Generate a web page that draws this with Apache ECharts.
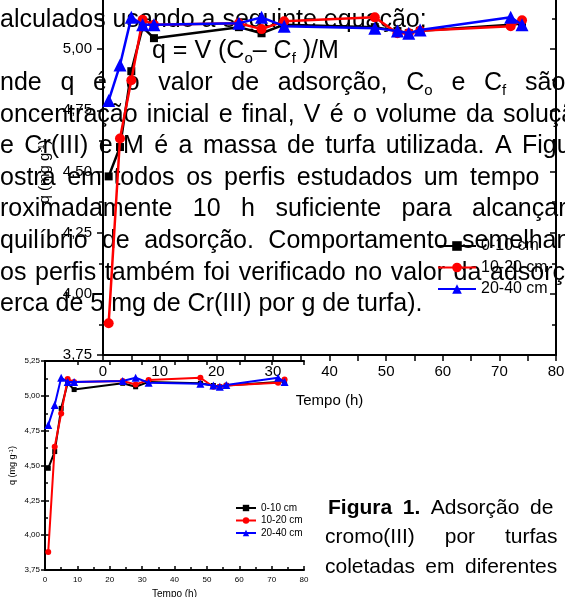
<!DOCTYPE html>
<html>
<head>
<meta charset="utf-8">
<script src="https://cdn.jsdelivr.net/npm/echarts@6/dist/echarts.min.js"></script>
<style>
  html, body { margin: 0; padding: 0; background: #fff; }
  #main { width: 565px; height: 597px; }
</style>
</head>
<body>
<div id="main"></div>
<script>
// tempos de coleta (h)
var times = [1, 3, 5, 7, 9, 24, 28, 32, 48, 52, 54, 56, 72, 74];
// q (mg/g) por perfil
var q0to10 = [4.48, 4.60, 4.91, 5.09, 5.045, 5.09, 5.065, 5.10, 5.09, 5.074, 5.065, 5.075, 5.10, 5.105];
var q10to20 = [3.88, 4.635, 4.873, 5.12, 5.10, 5.106, 5.082, 5.114, 5.13, 5.065, 5.065, 5.075, 5.094, 5.118];
var q20to40 = [4.79, 4.935, 5.13, 5.10, 5.10, 5.106, 5.13, 5.094, 5.086, 5.074, 5.065, 5.078, 5.13, 5.10];
var seriesNames = ['0-10 cm', '10-20 cm', '20-40 cm'];

// texto da pagina (partes visiveis)
var paragraphLines = [
  'alculados usando a seguinte equação:',
  'q = V (C_o– C_f )/M',
  'nde q é o valor de adsorção, C_o e C_f são',
  'oncentração inicial e final, V é o volume da solução',
  'e Cr(III) e M é a massa de turfa utilizada. A Figura',
  'ostra em todos os perfis estudados um tempo',
  'roximadamente 10 h suficiente para alcançar',
  'quilíbrio de adsorção. Comportamento semelhante',
  'os perfis também foi verificado no valor da adsorção',
  'erca de 5 mg de Cr(III) por g de turfa).'
];
var captionLines = [
  'Figura 1. Adsorção de',
  'cromo(III) por turfas',
  'coletadas em diferentes'
];

// posicao das linhas: inicio e inicio da ultima palavra (justificado)
var paraLayout = [
  {x0: 0}, {x0: 152}, {x0: 0, last: 525}, {x0: 0, last: 503}, {x0: 0, last: 522},
  {x0: 0, last: 470}, {x0: 0, last: 472}, {x0: 0, last: 462}, {x0: 0, last: 490}, {x0: 0}
];
var captionLayout = [
  {x0: 328, last: 530, bold: 2, y: 514.5},
  {x0: 325, last: 505, y: 544},
  {x0: 325, last: 465, y: 573.5}
];

var FAMILY = '"Liberation Sans", Arial, sans-serif';
var ctx = document.createElement('canvas').getContext('2d');

function fontOf(size, bold) {
  return (bold ? 'bold ' : '') + size + 'px ' + FAMILY;
}
function measure(str, font) {
  ctx.font = font;
  return ctx.measureText(str).width;
}
// "C_o," -> C, o (subscrito), ,
function wordParts(word) {
  var parts = [], re = /_(.)|([^_]+)/g, m;
  while ((m = re.exec(word))) {
    if (m[1]) parts.push({t: m[1], sub: true});
    else parts.push({t: m[2], sub: false});
  }
  return parts;
}
function wordWidth(word, fs, bold) {
  var w = 0;
  wordParts(word).forEach(function (p) {
    w += measure(p.t, fontOf(p.sub ? fs * 0.6 : fs, bold));
  });
  return w;
}
function layoutLine(text, lay, baseline, fs, out) {
  var words = text.split(/\s+/);
  var boldCount = lay.bold || 0;
  var widths = words.map(function (w, i) { return wordWidth(w, fs, i < boldCount); });
  var gap = measure(' ', fontOf(fs));
  if (lay.last != null && words.length > 1) {
    var sum = 0;
    for (var i = 0; i < words.length - 1; i++) sum += widths[i];
    gap = (lay.last - lay.x0 - sum) / (words.length - 1);
  }
  var x = lay.x0;
  words.forEach(function (w, i) {
    var px = x, bold = i < boldCount;
    wordParts(w).forEach(function (p) {
      var size = p.sub ? fs * 0.6 : fs;
      var base = p.sub ? baseline + fs * 0.18 : baseline;
      out.push({
        type: 'text', silent: true, z: 0,
        x: px, y: base - size * 0.32,
        style: {text: p.t, font: fontOf(size, bold), fill: '#000', verticalAlign: 'middle'}
      });
      px += measure(p.t, fontOf(size, bold));
    });
    x += widths[i] + gap;
  });
}

var textEls = [];
paragraphLines.forEach(function (t, i) {
  layoutLine(t, paraLayout[i], 28 + 31.6 * i, 25, textEls);
});
captionLines.forEach(function (t, i) {
  layoutLine(t, captionLayout[i], captionLayout[i].y, 21, textEls);
});

function commaLabel(v) {
  return v.toFixed(2).replace('.', ',');
}
function pairs(arr) {
  return times.map(function (t, i) { return [t, arr[i]]; });
}

var colors = ['#000000', '#ff0000', '#0000ff'];
var symbols = ['rect', 'circle', 'triangle'];
var bigSizes = [8, 10, 13];
var smallSizes = [5, 6, 8];
var values = [q0to10, q10to20, q20to40];

var series = [];
values.forEach(function (arr, k) {
  series.push({
    name: seriesNames[k], type: 'line', xAxisIndex: 0, yAxisIndex: 0,
    data: pairs(arr), symbol: symbols[k], symbolSize: bigSizes[k], z: 3 + k,
    lineStyle: {color: colors[k], width: 2.5}, itemStyle: {color: colors[k]},
    animation: false
  });
});
values.forEach(function (arr, k) {
  series.push({
    name: seriesNames[k], type: 'line', xAxisIndex: 1, yAxisIndex: 2,
    data: pairs(arr), symbol: symbols[k], symbolSize: smallSizes[k], z: 3 + k,
    lineStyle: {color: colors[k], width: 2}, itemStyle: {color: colors[k]},
    animation: false
  });
});

var blackLine = {show: true, lineStyle: {color: '#000', width: 2}};

var option = {
  backgroundColor: '#fff',
  animation: false,
  textStyle: {fontFamily: FAMILY},
  graphic: {elements: textEls},
  legend: [
    {
      data: seriesNames, orient: 'vertical', left: 437, top: 238, padding: 0,
      itemWidth: 38, itemHeight: 12, itemGap: 5.5, selectedMode: false,
      textStyle: {fontSize: 16, color: '#000', lineHeight: 16}
    },
    {
      data: seriesNames, orient: 'vertical', left: 235, top: 503, padding: 0,
      itemWidth: 20, itemHeight: 8, itemGap: 2.5, selectedMode: false,
      textStyle: {fontSize: 10, color: '#000', lineHeight: 10}
    }
  ],
  grid: [
    {left: 103, top: -12, width: 453, height: 367, outerBoundsMode: 'none', containLabel: false},
    {left: 45, top: 361, width: 259, height: 209, outerBoundsMode: 'none', containLabel: false}
  ],
  xAxis: [
    {
      type: 'value', gridIndex: 0, min: 0, max: 80, interval: 10,
      axisLine: blackLine,
      axisTick: {show: true, length: 6, lineStyle: {color: '#000', width: 1.5}},
      minorTick: {show: true, splitNumber: 2, length: 6, lineStyle: {color: '#000', width: 1.5}},
      axisLabel: {fontSize: 15, color: '#000', margin: 9},
      splitLine: {show: false},
      name: 'Tempo (h)', nameLocation: 'middle', nameGap: 38,
      nameTextStyle: {fontSize: 15, color: '#000'}
    },
    {
      type: 'value', gridIndex: 1, min: 0, max: 80, interval: 10,
      axisLine: blackLine,
      axisTick: {show: true, inside: true, length: 4, lineStyle: {color: '#000', width: 1.5}},
      minorTick: {show: true, splitNumber: 2, length: 3, lineStyle: {color: '#000', width: 1.5}},
      axisLabel: {fontSize: 8, color: '#000', margin: 6},
      splitLine: {show: false},
      name: 'Tempo (h)', nameLocation: 'middle', nameGap: 19,
      nameTextStyle: {fontSize: 10, color: '#000'}
    },
    {
      type: 'value', gridIndex: 1, position: 'top', min: 0, max: 80, interval: 10,
      axisLine: blackLine,
      axisTick: {show: true, inside: true, length: 4, lineStyle: {color: '#000', width: 1.5}},
      axisLabel: {show: false}, splitLine: {show: false}
    }
  ],
  yAxis: [
    {
      type: 'value', gridIndex: 0, min: 3.75, max: 5.25, interval: 0.25,
      axisLine: blackLine,
      axisTick: {show: true, length: 6, lineStyle: {color: '#000', width: 1.5}},
      minorTick: {show: true, splitNumber: 2, length: 4, lineStyle: {color: '#000', width: 1.5}},
      axisLabel: {fontSize: 15, color: '#000', margin: 11, formatter: commaLabel},
      splitLine: {show: false},
      name: 'q (mg g{sup|-1})', nameLocation: 'middle', nameGap: 50,
      nameTextStyle: {fontSize: 15, color: '#000', rich: {sup: {fontSize: 9, verticalAlign: 'top', color: '#000'}}}
    },
    {
      type: 'value', gridIndex: 0, position: 'right', min: 3.75, max: 5.25, interval: 0.25,
      axisLine: blackLine,
      axisTick: {show: true, inside: true, length: 6, lineStyle: {color: '#000', width: 1.5}},
      minorTick: {show: true, splitNumber: 2, length: 4, lineStyle: {color: '#000', width: 1.5}},
      axisLabel: {show: false}, splitLine: {show: false}
    },
    {
      type: 'value', gridIndex: 1, min: 3.75, max: 5.25, interval: 0.25,
      axisLine: blackLine,
      axisTick: {show: true, inside: true, length: 4, lineStyle: {color: '#000', width: 1.5}},
      minorTick: {show: true, splitNumber: 2, length: 3, lineStyle: {color: '#000', width: 1.5}},
      axisLabel: {fontSize: 8, color: '#000', margin: 5, formatter: commaLabel},
      splitLine: {show: false},
      name: 'q (mg g{sup|-1})', nameLocation: 'middle', nameGap: 28,
      nameTextStyle: {fontSize: 9, color: '#000', rich: {sup: {fontSize: 6, verticalAlign: 'top', color: '#000'}}}
    },
    {
      type: 'value', gridIndex: 1, position: 'right', min: 3.75, max: 5.25, interval: 0.25,
      axisLine: blackLine,
      axisTick: {show: true, inside: true, length: 4, lineStyle: {color: '#000', width: 1.5}},
      axisLabel: {show: false}, splitLine: {show: false}
    }
  ],
  series: series
};

var chart = echarts.init(document.getElementById('main'), null, {renderer: 'canvas'});
chart.setOption(option);
</script>
</body>
</html>
